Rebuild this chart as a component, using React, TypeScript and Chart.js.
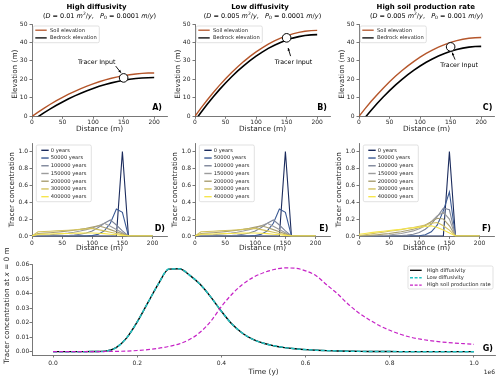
import React, { useEffect, useRef } from "react";
import { Chart, registerables } from "chart.js";

Chart.register(...registerables);

const FAMILY = "'DejaVu Sans', 'Liberation Sans', sans-serif";
Chart.defaults.font.family = FAMILY;

// ---------------- data ----------------
const distance = [0, 10, 20, 30, 40, 50, 60, 70, 80, 90, 100, 110, 120, 130, 140, 150, 160, 170, 180, 190, 200];
const distanceTicks = [0, 50, 100, 150, 200];
const elevationTicks = [0, 10, 20, 30, 40, 50];
const concTicks = [0, 0.2, 0.4, 0.6, 0.8, 1.0];
const timeTicks = [0, 200000, 400000, 600000, 800000, 1000000];
const timeConcTicks = [0, 0.01, 0.02, 0.03, 0.04, 0.05, 0.06];

const soilA = [0, 2.29, 4.46, 6.52, 8.45, 10.27, 11.97, 13.56, 15.03, 16.38, 17.61, 18.73, 19.72, 20.6, 21.37, 22.01, 22.54, 22.95, 23.25, 23.42, 23.48];
const bedrockA = [-2.5, -0.21, 1.96, 4.02, 5.95, 7.77, 9.47, 11.06, 12.53, 13.88, 15.11, 16.23, 17.22, 18.1, 18.87, 19.51, 20.04, 20.45, 20.75, 20.92, 20.98];
const soilB = [0, 4.54, 8.84, 12.91, 16.75, 20.35, 23.73, 26.87, 29.77, 32.45, 34.89, 37.1, 39.08, 40.82, 42.33, 43.61, 44.66, 45.47, 46.05, 46.4, 46.52];
const bedrockB = [-2.3, 2.24, 6.54, 10.61, 14.45, 18.05, 21.43, 24.57, 27.47, 30.15, 32.59, 34.8, 36.78, 38.52, 40.03, 41.31, 42.36, 43.17, 43.75, 44.1, 44.22];
const soilC = [0, 4.16, 8.11, 11.85, 15.37, 18.68, 21.78, 24.66, 27.33, 29.78, 32.03, 34.05, 35.87, 37.47, 38.86, 40.03, 40.99, 41.74, 42.27, 42.59, 42.7];
const bedrockC = [-4.8, -0.64, 3.31, 7.05, 10.57, 13.88, 16.98, 19.86, 22.53, 24.98, 27.23, 29.25, 31.07, 32.67, 34.06, 35.23, 36.19, 36.94, 37.47, 37.79, 37.9];
const tracerInputX = 150;
const tracerInputY = [20.8, 42.5, 37.6];

const tracerLabels = ["0 years", "50000 years", "100000 years", "150000 years", "200000 years", "300000 years", "400000 years"];
const tracerColors = ["#1a2a5c", "#3b5a94", "#7d8599", "#9c9c9c", "#a99f72", "#d3c25f", "#f6e54b"];

// panels D and E (high / low diffusivity)
const tracerDE = [
  [0, 0, 0, 0, 0, 0, 0, 0, 0, 0, 0, 0, 0, 0, 0, 1, 0, 0, 0, 0, 0],
  [0, 0, 0, 0, 0, 0, 0, 0, 0, 0, 0.005, 0.02, 0.06, 0.15, 0.32, 0.28, 0, 0, 0, 0, 0],
  [0, 0, 0, 0, 0, 0.003, 0.006, 0.012, 0.02, 0.035, 0.06, 0.1, 0.15, 0.19, 0.13, 0.06, 0, 0, 0, 0, 0],
  [0, 0.01, 0.012, 0.015, 0.02, 0.027, 0.035, 0.045, 0.058, 0.075, 0.095, 0.12, 0.15, 0.115, 0.077, 0.038, 0, 0, 0, 0, 0],
  [0, 0.03, 0.034, 0.039, 0.045, 0.052, 0.06, 0.068, 0.078, 0.09, 0.105, 0.12, 0.1, 0.075, 0.05, 0.025, 0, 0, 0, 0, 0],
  [0, 0.05, 0.053, 0.056, 0.06, 0.064, 0.068, 0.073, 0.078, 0.084, 0.09, 0.075, 0.06, 0.045, 0.03, 0.015, 0, 0, 0, 0, 0],
  [0, 0.02, 0.022, 0.024, 0.026, 0.028, 0.03, 0.032, 0.034, 0.035, 0.035, 0.033, 0.028, 0.021, 0.014, 0.007, 0, 0, 0, 0, 0],
];
// panel F (high soil production rate)
const tracerF = [
  [0, 0, 0, 0, 0, 0, 0, 0, 0, 0, 0, 0, 0, 0, 0, 1, 0, 0, 0, 0, 0],
  [0, 0, 0, 0, 0, 0, 0, 0, 0, 0, 0.003, 0.015, 0.05, 0.13, 0.3, 0.52, 0, 0, 0, 0, 0],
  [0, 0, 0, 0, 0, 0, 0.002, 0.005, 0.01, 0.02, 0.04, 0.08, 0.14, 0.23, 0.33, 0.31, 0, 0, 0, 0, 0],
  [0, 0, 0, 0.003, 0.006, 0.012, 0.02, 0.03, 0.045, 0.06, 0.085, 0.12, 0.17, 0.24, 0.28, 0.2, 0, 0, 0, 0, 0],
  [0, 0.003, 0.008, 0.015, 0.022, 0.03, 0.04, 0.05, 0.065, 0.08, 0.1, 0.13, 0.17, 0.21, 0.2, 0.12, 0, 0, 0, 0, 0],
  [0.005, 0.015, 0.025, 0.035, 0.045, 0.055, 0.065, 0.075, 0.09, 0.1, 0.115, 0.13, 0.15, 0.16, 0.12, 0.07, 0, 0, 0, 0, 0],
  [0.02, 0.03, 0.04, 0.048, 0.056, 0.064, 0.072, 0.08, 0.088, 0.096, 0.104, 0.112, 0.12, 0.1, 0.07, 0.035, 0, 0, 0, 0, 0],
];

const time = [0, 25000, 50000, 75000, 100000, 125000, 150000, 175000, 200000, 225000, 250000, 275000, 300000, 325000, 350000, 375000, 400000, 425000, 450000, 475000, 500000, 525000, 550000, 575000, 600000, 625000, 650000, 675000, 700000, 725000, 750000, 775000, 800000, 825000, 850000, 875000, 900000, 925000, 950000, 975000, 1000000];
const highDiffusivity = [0, 0, 0, 0, 0.0001, 0.0004, 0.0028, 0.0095, 0.0205, 0.0335, 0.0465, 0.0568, 0.057, 0.0525, 0.0462, 0.0375, 0.0278, 0.019, 0.0127, 0.0084, 0.0058, 0.004, 0.0028, 0.002, 0.0014, 0.001, 0.0007, 0.0005, 0.0003, 0.0002, 0.0001, 0.0001, 0.0001, 0, 0, 0, 0, 0, 0, 0, 0];
const lowDiffusivity = [0, 0, 0, 0, 0.0001, 0.0004, 0.0028, 0.0095, 0.0205, 0.0335, 0.0465, 0.0568, 0.057, 0.0525, 0.0462, 0.0375, 0.0278, 0.019, 0.0127, 0.0084, 0.0058, 0.004, 0.0028, 0.002, 0.0014, 0.001, 0.0007, 0.0005, 0.0003, 0.0002, 0.0001, 0.0001, 0.0001, 0, 0, 0, 0, 0, 0, 0, 0];
const highProduction = [0, 0, 0, 0, 0, 0.0001, 0.0002, 0.0004, 0.0008, 0.0014, 0.0023, 0.0036, 0.0054, 0.0085, 0.0135, 0.021, 0.031, 0.0395, 0.0462, 0.051, 0.0543, 0.0565, 0.0576, 0.0574, 0.0556, 0.0522, 0.046, 0.04, 0.033, 0.027, 0.0222, 0.018, 0.0147, 0.012, 0.0099, 0.0085, 0.0074, 0.0066, 0.006, 0.0055, 0.005];

// ---------------- styling ----------------
const AXIS = "#555555";
const TEXT = "#262626";
const SOIL = "#b5562b";
const CYAN = "#22c2c2";
const MAGENTA = "#c622c6";
const TICK_FONT = 6;

type Seg = { t: string; i?: boolean; b?: boolean; s?: number; dy?: number };
type LegendItem = { label: string; color: string; width: number; dash?: number[] };
type Legend = { items: LegendItem[]; fromRight?: boolean; x: number; y: number; w: number; h: number; first: number; gap: number; lx0: number; lx1: number; tx: number; font: number };
type Annot = { tx: number; ty: number; x1: number; y1: number; x2: number; y2: number };
type Panel = {
  area: [number, number, number, number];
  xMin: number; xMax: number; yMin: number; yMax: number;
  xTicks: number[]; yTicks: number[];
  xFmt: (v: number) => string; yFmt: (v: number) => string;
  xPad: number; yPad: number;
  datasets: any[];
  title?: string; titleDx?: number; subtitle?: Seg[];
  xlabel: Seg[]; xlabelDy: number;
  ylabel: Seg[]; ylabelDx: number; ylabelDy: number;
  letter: string; letterDx: number; letterDy: number;
  legend: Legend;
  annot?: Annot;
  offsetText?: string;
};

function segFont(s: Seg, base: number) {
  return `${s.i ? "italic " : ""}${s.b ? "bold " : ""}${s.s ?? base}px ${FAMILY}`;
}

function drawSegs(ctx: CanvasRenderingContext2D, segs: Seg[], base: number, x: number, y: number, align: "center" | "left" | "right") {
  let w = 0;
  segs.forEach((s) => { ctx.font = segFont(s, base); w += ctx.measureText(s.t).width; });
  let cx = align === "center" ? x - w / 2 : align === "right" ? x - w : x;
  ctx.textAlign = "left";
  ctx.textBaseline = "middle";
  segs.forEach((s) => {
    ctx.font = segFont(s, base);
    ctx.fillText(s.t, cx, y + (s.dy ?? 0));
    cx += ctx.measureText(s.t).width;
  });
}

function drawLegend(ctx: CanvasRenderingContext2D, a: any, L: Legend) {
  const x0 = (L.fromRight ? a.right : a.left) + L.x;
  const y0 = a.top + L.y;
  const r = 1.5;
  ctx.beginPath();
  ctx.moveTo(x0 + r, y0);
  ctx.lineTo(x0 + L.w - r, y0);
  ctx.quadraticCurveTo(x0 + L.w, y0, x0 + L.w, y0 + r);
  ctx.lineTo(x0 + L.w, y0 + L.h - r);
  ctx.quadraticCurveTo(x0 + L.w, y0 + L.h, x0 + L.w - r, y0 + L.h);
  ctx.lineTo(x0 + r, y0 + L.h);
  ctx.quadraticCurveTo(x0, y0 + L.h, x0, y0 + L.h - r);
  ctx.lineTo(x0, y0 + r);
  ctx.quadraticCurveTo(x0, y0, x0 + r, y0);
  ctx.closePath();
  ctx.fillStyle = "rgba(255,255,255,0.85)";
  ctx.fill();
  ctx.strokeStyle = "#d4d4d4";
  ctx.lineWidth = 0.7;
  ctx.stroke();
  L.items.forEach((it, i) => {
    const y = y0 + L.first + i * L.gap;
    ctx.beginPath();
    ctx.setLineDash(it.dash ?? []);
    ctx.lineWidth = it.width;
    ctx.strokeStyle = it.color;
    ctx.moveTo(x0 + L.lx0, y);
    ctx.lineTo(x0 + L.lx1, y);
    ctx.stroke();
    ctx.setLineDash([]);
    ctx.fillStyle = TEXT;
    ctx.font = `${L.font}px ${FAMILY}`;
    ctx.textAlign = "left";
    ctx.textBaseline = "middle";
    ctx.fillText(it.label, x0 + L.tx, y);
  });
}

function drawOverlay(chart: any, p: Panel) {
  const ctx = chart.ctx as CanvasRenderingContext2D;
  const a = chart.chartArea;
  const sx = chart.scales.x;
  const sy = chart.scales.y;
  const cx = (a.left + a.right) / 2;
  ctx.save();
  ctx.fillStyle = "#000";
  if (p.title) drawSegs(ctx, [{ t: p.title, b: true }], 7, cx + (p.titleDx ?? 0), a.top - 17, "center");
  if (p.subtitle) drawSegs(ctx, p.subtitle, 6.5, cx, a.top - 8, "center");
  ctx.fillStyle = TEXT;
  drawSegs(ctx, p.xlabel, 7.3, cx, a.bottom + p.xlabelDy, "center");
  ctx.save();
  ctx.translate(a.left + p.ylabelDx, (a.top + a.bottom) / 2 + p.ylabelDy);
  ctx.rotate(-Math.PI / 2);
  drawSegs(ctx, p.ylabel, 7.3, 0, 0, "center");
  ctx.restore();
  if (p.offsetText) {
    ctx.font = `${TICK_FONT}px ${FAMILY}`;
    ctx.textAlign = "right";
    ctx.textBaseline = "middle";
    ctx.fillText(p.offsetText, a.right, a.bottom + 17);
  }
  ctx.fillStyle = "#000";
  ctx.font = `bold 8px ${FAMILY}`;
  ctx.textAlign = "right";
  ctx.textBaseline = "middle";
  ctx.fillText(p.letter, a.right + p.letterDx, a.bottom + p.letterDy);
  if (p.annot) {
    const an = p.annot;
    ctx.fillStyle = "#000";
    ctx.font = `6.3px ${FAMILY}`;
    ctx.textAlign = "center";
    ctx.textBaseline = "middle";
    ctx.fillText("Tracer Input", sx.getPixelForValue(an.tx), sy.getPixelForValue(an.ty));
    const x1 = sx.getPixelForValue(an.x1), y1 = sy.getPixelForValue(an.y1);
    const x2 = sx.getPixelForValue(an.x2), y2 = sy.getPixelForValue(an.y2);
    ctx.strokeStyle = "#000";
    ctx.lineWidth = 0.9;
    ctx.beginPath();
    ctx.moveTo(x1, y1);
    ctx.lineTo(x2, y2);
    ctx.stroke();
    const ang = Math.atan2(y2 - y1, x2 - x1);
    const len = 3;
    ctx.beginPath();
    ctx.moveTo(x2, y2);
    ctx.lineTo(x2 - len * Math.cos(ang - 0.45), y2 - len * Math.sin(ang - 0.45));
    ctx.lineTo(x2 - len * Math.cos(ang + 0.45), y2 - len * Math.sin(ang + 0.45));
    ctx.closePath();
    ctx.fill();
  }
  drawLegend(ctx, a, p.legend);
  ctx.restore();
}

function lineDs(xs: number[], ys: number[], color: string, width: number, extra: any = {}) {
  return {
    data: xs.map((x, i) => ({ x, y: ys[i] })),
    borderColor: color,
    backgroundColor: color,
    borderWidth: width,
    pointRadius: 0,
    pointHoverRadius: 0,
    fill: false,
    tension: 0,
    ...extra,
  };
}

function buildChart(canvas: HTMLCanvasElement, p: Panel) {
  const [L, T, R, B] = p.area;
  const YW = 30;
  const XH = 22;
  const overlay = { id: "overlay", afterDraw: (chart: any) => drawOverlay(chart, p) };
  const axisCommon = {
    grid: { display: true, drawOnChartArea: false, drawTicks: true, tickLength: 2.5, color: AXIS, lineWidth: 0.8 },
    border: { display: true, color: AXIS, width: 0.8 },
  };
  return new Chart(canvas, {
    type: "line",
    data: { datasets: p.datasets.map((d, i, arr) => ({ ...d, order: arr.length - i })) },
    options: {
      animation: false,
      responsive: false,
      maintainAspectRatio: false,
      events: [],
      layout: { padding: { left: L - YW, top: T, right: 500 - R, bottom: 380 - B - XH } },
      plugins: { legend: { display: false }, tooltip: { enabled: false }, title: { display: false } },
      scales: {
        x: {
          type: "linear",
          min: p.xMin,
          max: p.xMax,
          afterFit: (s: any) => { s.height = XH; },
          afterBuildTicks: (s: any) => { s.ticks = p.xTicks.map((v) => ({ value: v })); },
          ticks: { callback: (v: any) => p.xFmt(Number(v)), font: { size: TICK_FONT }, color: TEXT, padding: p.xPad, maxRotation: 0, autoSkip: false },
          ...axisCommon,
        },
        y: {
          type: "linear",
          min: p.yMin,
          max: p.yMax,
          afterFit: (s: any) => { s.width = YW; },
          afterBuildTicks: (s: any) => { s.ticks = p.yTicks.map((v) => ({ value: v })); },
          ticks: { callback: (v: any) => p.yFmt(Number(v)), font: { size: TICK_FONT }, color: TEXT, padding: p.yPad, autoSkip: false },
          ...axisCommon,
        },
      },
    } as any,
    plugins: [overlay],
  });
}

const subtitle = (d: string, p0: string): Seg[] => [
  { t: "(" }, { t: "D", i: true }, { t: ` = ${d} ` }, { t: "m", i: true }, { t: "2", s: 4.5, dy: -2.5 }, { t: "/" }, { t: "y", i: true },
  { t: ",   " }, { t: "P", i: true }, { t: "0", s: 4.5, dy: 1.5 }, { t: ` = ${p0} ` }, { t: "m", i: true }, { t: "/" }, { t: "y", i: true }, { t: ")" },
];

const elevLegend: Legend = {
  items: [
    { label: "Soil elevation", color: SOIL, width: 1.3 },
    { label: "Bedrock elevation", color: "#000", width: 1.3 },
  ],
  x: 1.3, y: 2, w: 66, h: 16.7, first: 4.2, gap: 7.7, lx0: 2, lx1: 13.4, tx: 16.7, font: 5.2,
};

const tracerLegend: Legend = {
  items: tracerLabels.map((label, i) => ({ label, color: tracerColors[i], width: 1.4 })),
  x: 4.3, y: 2, w: 55, h: 56.7, first: 5.3, gap: 7.73, lx0: 5, lx1: 12.4, tx: 14.4, font: 5.2,
};

function elevPanel(area: [number, number, number, number], soil: number[], bed: number[], ti: number, title: string, sub: Seg[], letter: string, letterDx: number, annot: Annot, titleDx: number): Panel {
  return {
    area, xMin: 0, xMax: 221, yMin: 0, yMax: 50,
    xTicks: distanceTicks, yTicks: elevationTicks,
    xFmt: (v) => String(v), yFmt: (v) => String(v),
    xPad: 0.5, yPad: 2,
    datasets: [
      lineDs(distance, soil, SOIL, 1.4),
      lineDs(distance, bed, "#000", 1.6),
      {
        data: [{ x: tracerInputX, y: tracerInputY[ti] }],
        showLine: false, pointRadius: 4.3, pointHoverRadius: 4.3,
        pointBackgroundColor: "#fff", pointBorderColor: "#000", pointBorderWidth: 1,
        borderColor: "#000", backgroundColor: "#fff", clip: false,
      },
    ],
    title, titleDx, subtitle: sub,
    xlabel: [{ t: "Distance (m)" }], xlabelDy: 13,
    ylabel: [{ t: "Elevation (m)" }], ylabelDx: -17, ylabelDy: 4,
    letter, letterDx, letterDy: -8,
    legend: elevLegend,
    annot,
  };
}

function tracerPanel(area: [number, number, number, number], series: number[][], letter: string, letterDx: number): Panel {
  return {
    area, xMin: 0, xMax: 224, yMin: -0.005, yMax: 1.1,
    xTicks: distanceTicks, yTicks: concTicks,
    xFmt: (v) => String(v), yFmt: (v) => v.toFixed(1),
    xPad: 0.5, yPad: 1.5,
    datasets: series.map((s, i) => lineDs(distance, s, tracerColors[i], 1.1)),
    xlabel: [{ t: "Distance (m)" }], xlabelDy: 12,
    ylabel: [{ t: "Tracer concentration" }], ylabelDx: -19.5, ylabelDy: 0,
    letter, letterDx, letterDy: -7,
    legend: tracerLegend,
  };
}

const PANELS: Panel[] = [
  elevPanel([32, 24, 167, 116.3], soilA, bedrockA, 0, "High diffusivity", subtitle("0.01", "0.0001"), "A)", -5,
    { tx: 106, ty: 29.3, x1: 137, y1: 27.2, x2: 145.6, y2: 23.6 }, -3),
  elevPanel([195, 24, 330, 116.3], soilB, bedrockB, 1, "Low diffusivity", subtitle("0.005", "0.0001"), "B)", -3,
    { tx: 161.3, ty: 29.3, x1: 156.5, y1: 32.6, x2: 152.4, y2: 37 }, -2.5),
  elevPanel([359, 24, 494, 116.3], soilC, bedrockC, 2, "High soil production rate", subtitle("0.005", "0.001"), "C)", -1.7,
    { tx: 163.8, ty: 27.4, x1: 157.3, y1: 30.7, x2: 152.5, y2: 34.5 }, -0.7),
  tracerPanel([32, 143, 167, 236.4], tracerDE, "D)", -2),
  tracerPanel([195, 143, 330, 236.4], tracerDE, "E)", -1.7),
  tracerPanel([359, 143, 494, 236.4], tracerF, "F)", -3),
  {
    area: [32, 264, 495, 355],
    xMin: -50000, xMax: 1050000, yMin: -0.0023, yMax: 0.0603,
    xTicks: timeTicks, yTicks: timeConcTicks,
    xFmt: (v) => (v / 1e6).toFixed(1), yFmt: (v) => v.toFixed(2),
    xPad: 2.5, yPad: 0.3,
    datasets: [
      lineDs(time, highDiffusivity, "#000", 1.4, { cubicInterpolationMode: "monotone" }),
      lineDs(time, lowDiffusivity, CYAN, 1.5, { cubicInterpolationMode: "monotone", borderDash: [4, 2] }),
      lineDs(time, highProduction, MAGENTA, 1.2, { cubicInterpolationMode: "monotone", borderDash: [4, 2.2] }),
    ],
    xlabel: [{ t: "Time (y)" }], xlabelDy: 16.7,
    ylabel: [{ t: "Tracer concentration at " }, { t: "x", i: true }, { t: " = 0 m" }], ylabelDx: -24.5, ylabelDy: -4,
    letter: "G)", letterDx: -2, letterDy: -6,
    offsetText: "1e6",
    legend: {
      items: [
        { label: "High diffusivity", color: "#000", width: 1.3 },
        { label: "Low diffusivity", color: CYAN, width: 1.4, dash: [3, 1.6] },
        { label: "High soil production rate", color: MAGENTA, width: 1.2, dash: [3, 1.6] },
      ],
      fromRight: true, x: -87, y: 2, w: 85, h: 23, first: 4.3, gap: 7.4, lx0: 2, lx1: 13.7, tx: 18.7, font: 5.2,
    },
  },
];

export default function App() {
  const refs = useRef<(HTMLCanvasElement | null)[]>([]);
  useEffect(() => {
    const charts = PANELS.map((p, i) => buildChart(refs.current[i] as HTMLCanvasElement, p));
    return () => charts.forEach((c) => c.destroy());
  }, []);
  return (
    <div style={{ position: "fixed", left: 0, top: 0, width: 500, height: 380, background: "#fff", overflow: "hidden" }}>
      {PANELS.map((_, i) => (
        <canvas
          key={i}
          ref={(el) => { refs.current[i] = el; }}
          width={500}
          height={380}
          style={{ position: "absolute", left: 0, top: 0, width: 500, height: 380 }}
        />
      ))}
    </div>
  );
}
